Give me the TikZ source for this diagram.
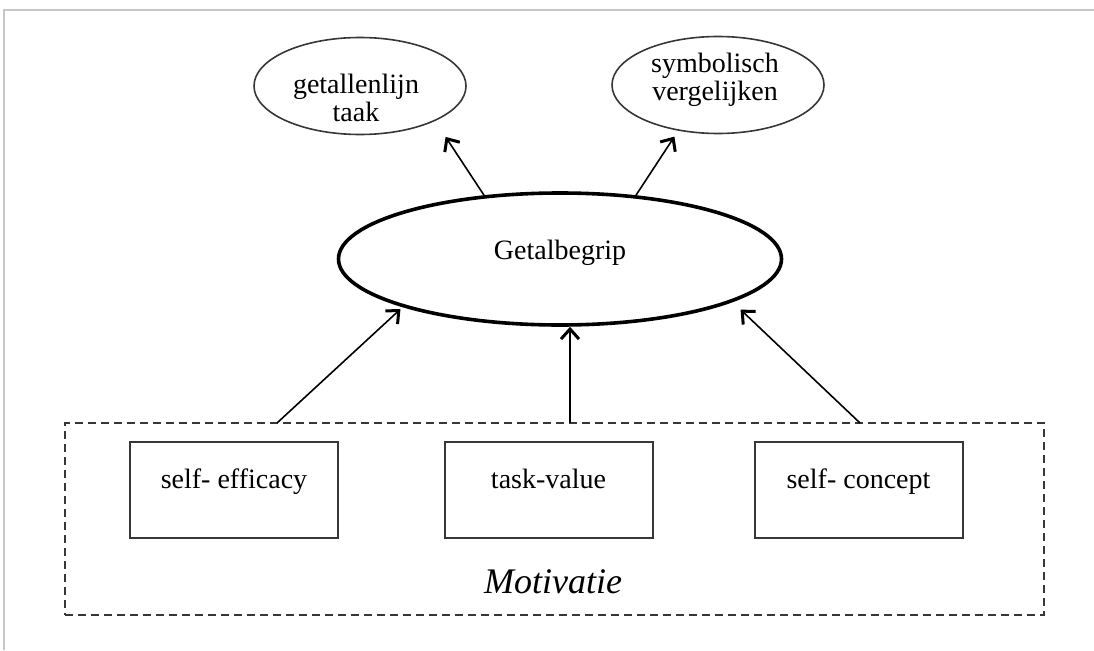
\documentclass[tikz,border=0pt]{standalone}
\usepackage{fontspec}
\setmainfont{Liberation Serif}
\usepackage{tikz}
\usetikzlibrary{shapes,arrows.meta,positioning,calc}
\definecolor{framegrey}{RGB}{200,200,200}
\definecolor{linegrey}{RGB}{55,55,55}

\begin{document}
\begin{tikzpicture}[x=1pt, y=-1pt,
  every node/.style={font=\fontsize{28}{28}\selectfont},
  bubble/.style={draw=linegrey, ellipse, line width=1.6pt, minimum width=212pt, minimum height=97pt, inner sep=0pt},
  bubbletext/.style={align=center, font=\fontsize{28}{28.5}\selectfont},
  core/.style={draw, ellipse, line width=3.6pt, minimum width=443pt, minimum height=132pt, inner sep=0pt, text height=10pt, text depth=10pt},
  factor/.style={draw=linegrey, line width=2pt, minimum width=208pt, minimum height=96pt, text height=8pt, text depth=12pt},
  group/.style={draw=linegrey, dash pattern=on 8pt off 5pt, line width=2pt, minimum width=979pt, minimum height=192pt},
  arr/.style={line width=1.6pt, -{Straight Barb[length=10pt, width=18pt, line width=3pt]}}]
\useasboundingbox (0,0) rectangle (1094,650);
\draw[framegrey, line width=1.5pt] (4,650) -- (4,10) -- (1094,10);

% outcome measures
\node[bubble] (lijn) at (360,86) {};
\node[bubbletext] (lijntxt) at (356,98) {getallenlijn\\taak};
\node[bubble] (symb) at (718,85) {};
\node[bubbletext] (symbtxt) at (715,80) {symbolisch\\vergelijken};

% latent factor
\node[core] (getal) at (560,259) {Getalbegrip};

% motivation block
\node[group] (motiv) at (554.5,519) {};
\node[factor] (eff)  at (234,490)   {self- efficacy};
\node[factor] (val)  at (548.5,490) {task-value};
\node[factor] (conc) at (858.5,490) {self- concept};
\node[font=\fontsize{36}{37}\selectfont\itshape] (motivtxt) at (553,582) {Motivatie};

\coordinate (t1) at (277,423);
\coordinate (t2) at (570,423);
\coordinate (t3) at (860,423);

\draw[arr, shorten >=19pt] (getal.140) -- (lijn.335);
\draw[arr, shorten >=7pt]  (getal.40)  -- (symb.229);
\draw[arr, shorten >=3pt]  (t1) -- (getal.197);
\draw[arr] (t2) -- (t2 |- getal.south);
\draw[arr, shorten >=11pt] (t3) -- (getal.346);
\end{tikzpicture}
\end{document}
